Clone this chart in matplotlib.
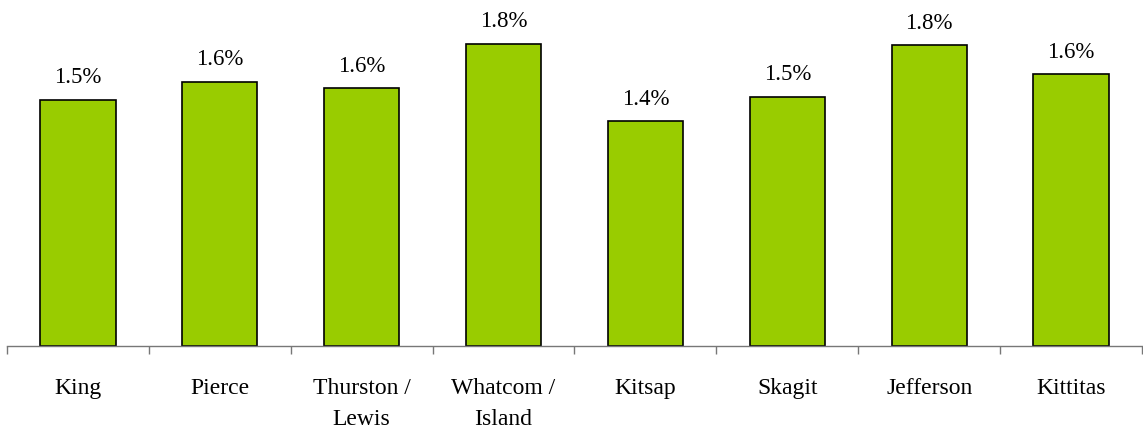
import matplotlib.pyplot as plt
import numpy as np

plt.rcParams['font.family'] = ['Liberation Serif', 'DejaVu Serif']

# data
regions = ['King', 'Pierce', 'Thurston /\nLewis', 'Whatcom /\nIsland',
           'Kitsap', 'Skagit', 'Jefferson', 'Kittitas']
growth = [1.49, 1.60, 1.56, 1.83, 1.36, 1.51, 1.82, 1.645]

fig = plt.figure(figsize=(11.43, 4.32), dpi=100)
ax = fig.add_axes([0.0061, 0.199, 0.993, 0.765])

x = np.arange(len(regions))
ax.bar(x, growth, width=0.53, color='#99CC00', edgecolor='black', linewidth=1.2)

for xi, v in zip(x, growth):
    ax.annotate(f'{v:.1f}%', xy=(xi, v), xytext=(0, 12), textcoords='offset points',
                ha='center', va='baseline', fontsize=16.5)

ax.set_xlim(-0.5, len(regions) - 0.5)
ax.set_ylim(0, 2.0)

# axis styling: only a bottom line with ticks between categories
for side in ['left', 'right', 'top']:
    ax.spines[side].set_visible(False)
ax.spines['bottom'].set_color('#777777')
ax.spines['bottom'].set_linewidth(1.0)
ax.set_yticks([])

ax.set_xticks(x)
ax.set_xticklabels(regions, fontsize=17, linespacing=1.65)
ax.tick_params(axis='x', which='major', length=0, pad=23)
ax.set_xticks(np.arange(-0.5, len(regions)), minor=True)
ax.tick_params(axis='x', which='minor', length=6, color='#777777', width=1.0)

fig.savefig('out.png', dpi=100, facecolor='white')
